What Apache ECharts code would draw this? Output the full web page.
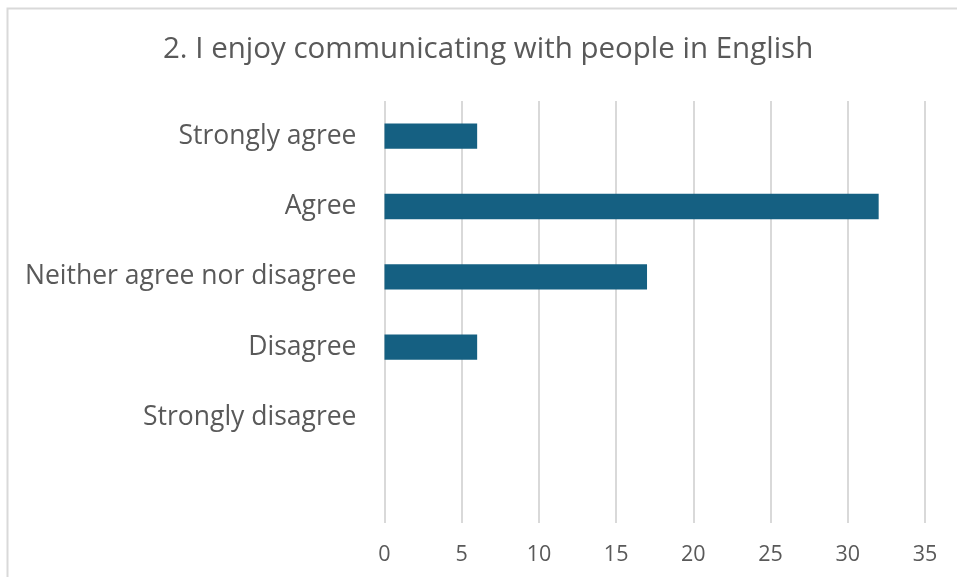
<!DOCTYPE html>
<html>
<head>
<meta charset="utf-8">
<script src="https://cdn.jsdelivr.net/npm/echarts@6/dist/echarts.min.js"></script>
<style>
  html, body { margin: 0; padding: 0; background: #ffffff; }
  #chart { width: 957px; height: 577px; }
</style>
</head>
<body>
<div id="chart"></div>
<script>
// Survey responses
const titleText = '2. I enjoy communicating with people in English';
const categories = ['Strongly agree', 'Agree', 'Neither agree nor disagree', 'Disagree', 'Strongly disagree', ''];
const counts = [6, 32, 17, 6, null, null];
const xTicks = [0, 5, 10, 15, 20, 25, 30, 35];

const font = '"Open Sans", "Liberation Sans", sans-serif';
const chart = echarts.init(document.getElementById('chart'));

chart.setOption({
  animation: false,
  backgroundColor: '#ffffff',
  graphic: [{
    type: 'rect',
    shape: { x: 7.5, y: 8.5, width: 960, height: 580 },
    style: { fill: 'none', stroke: '#d9d9d9', lineWidth: 2 },
    silent: true
  }],
  title: {
    text: titleText,
    left: 158,
    top: 30,
    textStyle: { fontFamily: font, fontSize: 29.5, fontWeight: 'normal', color: '#595959' }
  },
  grid: { left: 384.5, right: 32, top: 101, bottom: 54, containLabel: false },
  xAxis: {
    type: 'value',
    min: xTicks[0],
    max: xTicks[xTicks.length - 1],
    interval: 5,
    axisLine: { show: false },
    axisTick: { show: false },
    axisLabel: { fontFamily: font, fontSize: 21.5, color: '#595959', margin: 21 },
    splitLine: { lineStyle: { color: '#d9d9d9', width: 2 } }
  },
  yAxis: {
    type: 'category',
    inverse: true,
    data: categories,
    axisLine: { show: false },
    axisTick: { show: false },
    axisLabel: { fontFamily: font, fontSize: 26.5, color: '#595959', margin: 28 }
  },
  series: [{
    type: 'bar',
    data: counts,
    barWidth: '36%',
    itemStyle: { color: '#156082' }
  }]
});
</script>
</body>
</html>
